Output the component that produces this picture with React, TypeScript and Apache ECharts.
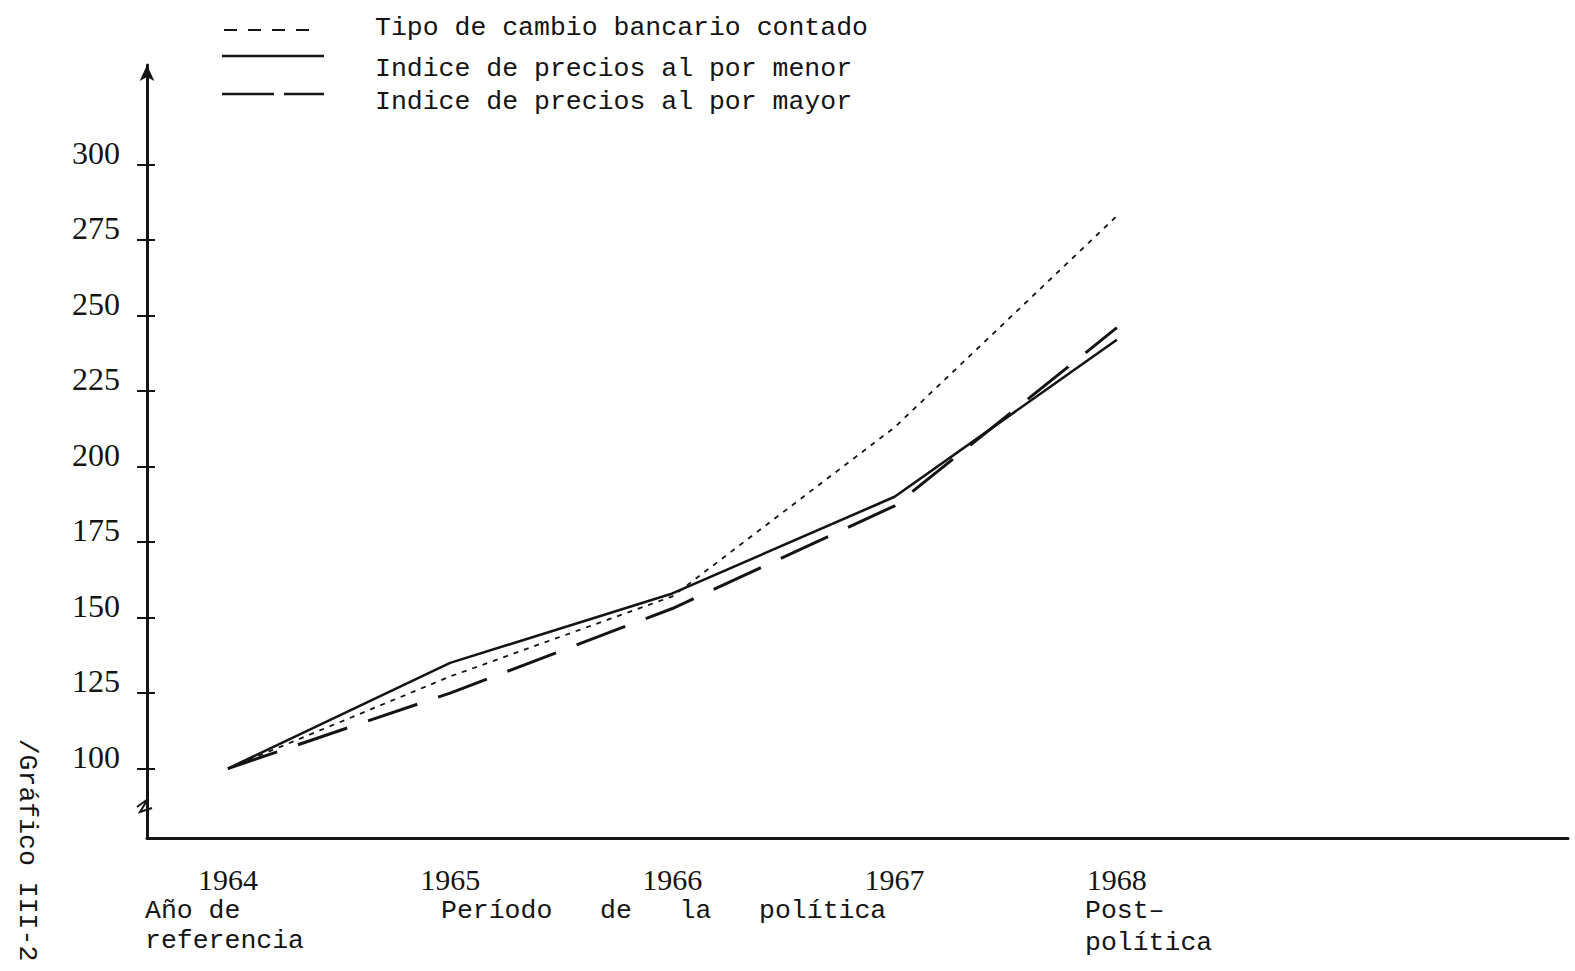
import React, { useEffect, useRef } from "react";
import * as echarts from "echarts";

const years = [1964, 1965, 1966, 1967, 1968];
const tipoCambio = [100, 130.5, 157, 213, 283];
const preciosMenor = [100, 135, 158, 190, 242];
const preciosMayor = [100, 125, 153, 187, 246];
const yTicks = [100, 125, 150, 175, 200, 225, 250, 275, 300];
const seriesNames = [
  "Tipo de cambio bancario contado",
  "Indice de precios al por menor",
  "Indice de precios al por mayor",
];

const INK = "#141414";
const MONO = "'Liberation Mono', 'DejaVu Sans Mono', monospace";
const SERIF = "'Liberation Serif', 'DejaVu Serif', serif";

export default function App() {
  const ref = useRef<HTMLDivElement>(null);
  useEffect(() => {
    if (!ref.current) return;
    const chart = echarts.init(ref.current, undefined, { renderer: "svg" });
    const pts = (vals: number[]) => years.map((y, i) => [y, vals[i]]);
    const monoFont = `26.5px ${MONO}`;
    chart.setOption({
      animation: false,
      backgroundColor: "#ffffff",
      grid: { left: 147, right: 7, top: 65, bottom: 133, containLabel: false },
      xAxis: {
        type: "value",
        min: 1963.636,
        max: 1970.03,
        axisLine: { show: true, onZero: false, lineStyle: { color: INK, width: 3 } },
        axisTick: { show: false },
        splitLine: { show: false },
        axisLabel: {
          customValues: years,
          formatter: (v: number) => String(Math.round(v)),
          fontFamily: SERIF,
          fontSize: 30,
          color: INK,
          margin: 26,
          lineHeight: 30,
        },
      },
      yAxis: [
        {
          type: "value",
          min: 77,
          max: 333,
          axisLine: {
            show: true,
            onZero: false,
            lineStyle: { color: INK, width: 3 },
            symbol: ["none", "arrow"],
            symbolSize: [11, 16],
          },
          axisTick: { show: true, customValues: yTicks, length: 10, lineStyle: { color: INK, width: 2 } },
          splitLine: { show: false },
          axisLabel: {
            customValues: yTicks,
            formatter: (v: number) => String(v),
            fontFamily: SERIF,
            fontSize: 32,
            color: INK,
            margin: 27,
            verticalAlign: "bottom",
            lineHeight: 24,
          },
        },
        {
          type: "value",
          min: 77,
          max: 333,
          position: "left",
          axisLine: { show: false },
          axisTick: {
            show: true,
            inside: true,
            customValues: yTicks,
            length: 8,
            lineStyle: { color: INK, width: 2 },
          },
          axisLabel: { show: false },
          splitLine: { show: false },
        },
      ],
      series: [
        {
          name: seriesNames[0],
          type: "line",
          data: pts(tipoCambio),
          symbol: "none",
          lineStyle: { color: INK, width: 1.8, type: [5, 6] },
        },
        {
          name: seriesNames[1],
          type: "line",
          data: pts(preciosMenor),
          symbol: "none",
          lineStyle: { color: INK, width: 2.6 },
        },
        {
          name: seriesNames[2],
          type: "line",
          data: pts(preciosMayor),
          symbol: "none",
          lineStyle: { color: INK, width: 3, type: [52, 22] },
        },
      ],
      graphic: [
        // legend
        {
          type: "line",
          shape: { x1: 224, y1: 30, x2: 320, y2: 30 },
          style: { stroke: INK, lineWidth: 2, lineDash: [13, 11] },
        },
        {
          type: "line",
          shape: { x1: 222, y1: 56, x2: 324, y2: 56 },
          style: { stroke: INK, lineWidth: 2.4 },
        },
        {
          type: "line",
          shape: { x1: 222, y1: 94, x2: 324, y2: 94 },
          style: { stroke: INK, lineWidth: 2.6, lineDash: [52, 10] },
        },
        {
          type: "text",
          x: 375,
          y: 28,
          style: { text: seriesNames[0], font: monoFont, fill: INK, align: "left", verticalAlign: "middle" },
        },
        {
          type: "text",
          x: 375,
          y: 69,
          style: { text: seriesNames[1], font: monoFont, fill: INK, align: "left", verticalAlign: "middle" },
        },
        {
          type: "text",
          x: 375,
          y: 102,
          style: { text: seriesNames[2], font: monoFont, fill: INK, align: "left", verticalAlign: "middle" },
        },
        // axis break mark
        {
          type: "polyline",
          shape: { points: [[137, 807], [148, 799], [140, 812], [152, 808]] },
          style: { stroke: INK, lineWidth: 2, fill: "none" },
        },
        // bottom annotations
        {
          type: "text",
          x: 145,
          y: 911,
          style: { text: "Año de", font: monoFont, fill: INK, align: "left", verticalAlign: "middle" },
        },
        {
          type: "text",
          x: 145,
          y: 941,
          style: { text: "referencia", font: monoFont, fill: INK, align: "left", verticalAlign: "middle" },
        },
        {
          type: "text",
          x: 441,
          y: 911,
          style: { text: "Período   de   la   política", font: monoFont, fill: INK, align: "left", verticalAlign: "middle" },
        },
        {
          type: "text",
          x: 1085,
          y: 911,
          style: { text: "Post–", font: monoFont, fill: INK, align: "left", verticalAlign: "middle" },
        },
        {
          type: "text",
          x: 1085,
          y: 943,
          style: { text: "política", font: monoFont, fill: INK, align: "left", verticalAlign: "middle" },
        },
        {
          type: "text",
          x: 27,
          y: 850,
          rotation: -Math.PI / 2,
          style: { text: "/Gráfico III-2", font: monoFont, fill: INK, align: "center", verticalAlign: "middle" },
        },
      ],
    });
    return () => chart.dispose();
  }, []);
  return (
    <div
      ref={ref}
      style={{ position: "absolute", left: 0, top: 0, width: 1575, height: 971, background: "#fff" }}
    />
  );
}
